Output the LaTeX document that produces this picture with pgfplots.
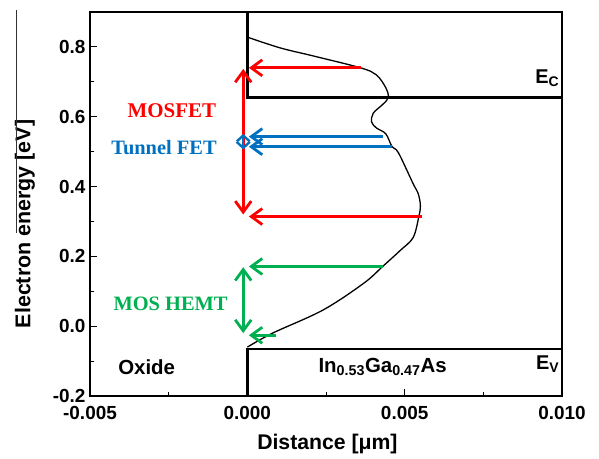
\documentclass[border=0pt]{standalone}
\usepackage{fontspec}
\setmainfont{Liberation Sans}
\newfontfamily\serifb{Liberation Serif}
\usepackage{pgfplots}
\pgfplotsset{compat=1.18}
\usetikzlibrary{arrows.meta}
\definecolor{tblue}{RGB}{0,112,192}
\definecolor{tgreen}{RGB}{0,176,80}
\definecolor{tred}{RGB}{255,0,0}
\tikzset{
  arr/.style={line width=2.8pt, -{Straight Barb[length=11bp,width=16bp]}},
  darr/.style={line width=2.8pt, {Straight Barb[length=11bp,width=16bp]}-{Straight Barb[length=11bp,width=16bp]}},
  sarr/.style={line width=2.4pt, {Straight Barb[length=6bp,width=13bp]}-{Straight Barb[length=6bp,width=13bp]}},
}
\begin{document}
\begin{tikzpicture}
\begin{axis}[
  scale only axis, width=472bp, height=384bp,
  xmin=-0.005, xmax=0.010, ymin=-0.2, ymax=0.9,
  xtick={-0.005,0,0.005,0.010},
  ytick={-0.2,0,0.2,0.4,0.6,0.8},
  minor x tick num=1, minor y tick num=1,
  tick pos=left, tick align=inside,
  major tick length=7bp, minor tick length=4.5bp,
  axis line style={line width=1.2pt},
  every tick/.style={line width=1pt, black},
  scaled ticks=false,
  /pgf/number format/assume math mode=true,
  xticklabel style={yshift=-7bp, /pgf/number format/.cd, fixed, fixed zerofill, precision=3},
  yticklabel style={xshift=-1bp, /pgf/number format/.cd, fixed, fixed zerofill, precision=1},
  tick label style={font=\fontsize{19}{21}\selectfont\bfseries},
  xlabel={Distance [μm]},
  xlabel style={at={(rel axis cs:0.503,-0.125)}, anchor=center, font=\fontsize{21.3}{24}\selectfont\bfseries},
  ylabel={Electron energy [eV]},
  ylabel style={at={(rel axis cs:-0.138,0.448)}, anchor=center, font=\fontsize{21.5}{24}\selectfont\bfseries},
  clip=false,
]
% wavefunction-like curve
\addplot[black, line width=1.3pt, smooth, tension=0.55] coordinates {
(0.0000,0.828) (0.00105,0.797) (0.0021,0.774) (0.0036,0.740) (0.0041,0.720)
(0.0044,0.683) (0.00448,0.655) (0.0043,0.635) (0.0040,0.610) (0.00395,0.585)
(0.0041,0.568) (0.0044,0.551) (0.0046,0.514) (0.0048,0.497) (0.00527,0.408)
(0.00543,0.38) (0.0055,0.345) (0.00545,0.314) (0.00527,0.254) (0.00486,0.217)
(0.0043,0.171) (0.0037,0.123) (0.0024,0.046) (0.0008,-0.020) (0.0000,-0.060)
};
% band edges
\addplot[black, line width=2.6pt] coordinates {(0,0.9) (0,0.655) (0.010,0.655)};
\addplot[black, line width=2.6pt] coordinates {(0,-0.2) (0,-0.065) (0.010,-0.065)};
% MOSFET arrows
\addplot[tred, arr] coordinates {(0.0036,0.740) (0.00005,0.740)};
\addplot[tred, arr] coordinates {(0.00555,0.314) (0.00005,0.314)};
\addplot[tred, darr] coordinates {(-0.00013,0.320) (-0.00013,0.737)};
% Tunnel FET arrows
\addplot[tblue, arr] coordinates {(0.0043,0.543) (0.00005,0.543)};
\addplot[tblue, arr] coordinates {(0.0046,0.514) (0.00005,0.514)};
\addplot[tblue, sarr] coordinates {(-0.00013,0.506) (-0.00013,0.551)};
% MOS HEMT arrows
\addplot[tgreen, arr] coordinates {(0.0043,0.171) (0.00005,0.171)};
\addplot[tgreen, arr] coordinates {(0.0009,-0.026) (0.00005,-0.026)};
\addplot[tgreen, darr] coordinates {(-0.00013,-0.020) (-0.00013,0.169)};
% labels
\node[tred, font=\serifb\fontsize{21}{24}\selectfont\bfseries] at (axis cs:-0.0024,0.617) {MOSFET};
\node[tblue, font=\serifb\fontsize{20.5}{24}\selectfont\bfseries] at (axis cs:-0.00265,0.511) {Tunnel FET};
\node[tgreen, font=\serifb\fontsize{20.5}{24}\selectfont\bfseries] at (axis cs:-0.00244,0.063) {MOS HEMT};
\node[font=\fontsize{20.5}{22}\selectfont\bfseries] at (axis cs:-0.0032,-0.117) {Oxide};
\node[font=\fontsize{20.5}{22}\selectfont\bfseries] at (axis cs:0.0043,-0.117) {In\textsubscript{0.53}Ga\textsubscript{0.47}As};
\node[anchor=east, inner sep=1bp, font=\fontsize{20}{22}\selectfont\bfseries] at (axis cs:0.00995,0.711) {E\textsubscript{C}};
\node[anchor=east, inner sep=1bp, font=\fontsize{20}{22}\selectfont\bfseries] at (axis cs:0.00995,-0.108) {E\textsubscript{V}};
\end{axis}
% thin stray rule left of the y label, as in the reference image
\draw[black!80, line width=0.8pt] ([shift={(-74bp,2bp)}]current axis.north west) -- ([shift={(-74bp,163bp)}]current axis.south west);
\path ([shift={(-90bp,-63bp)}]current axis.south west) rectangle ([shift={(37bp,12bp)}]current axis.north east);
\end{tikzpicture}
\end{document}
